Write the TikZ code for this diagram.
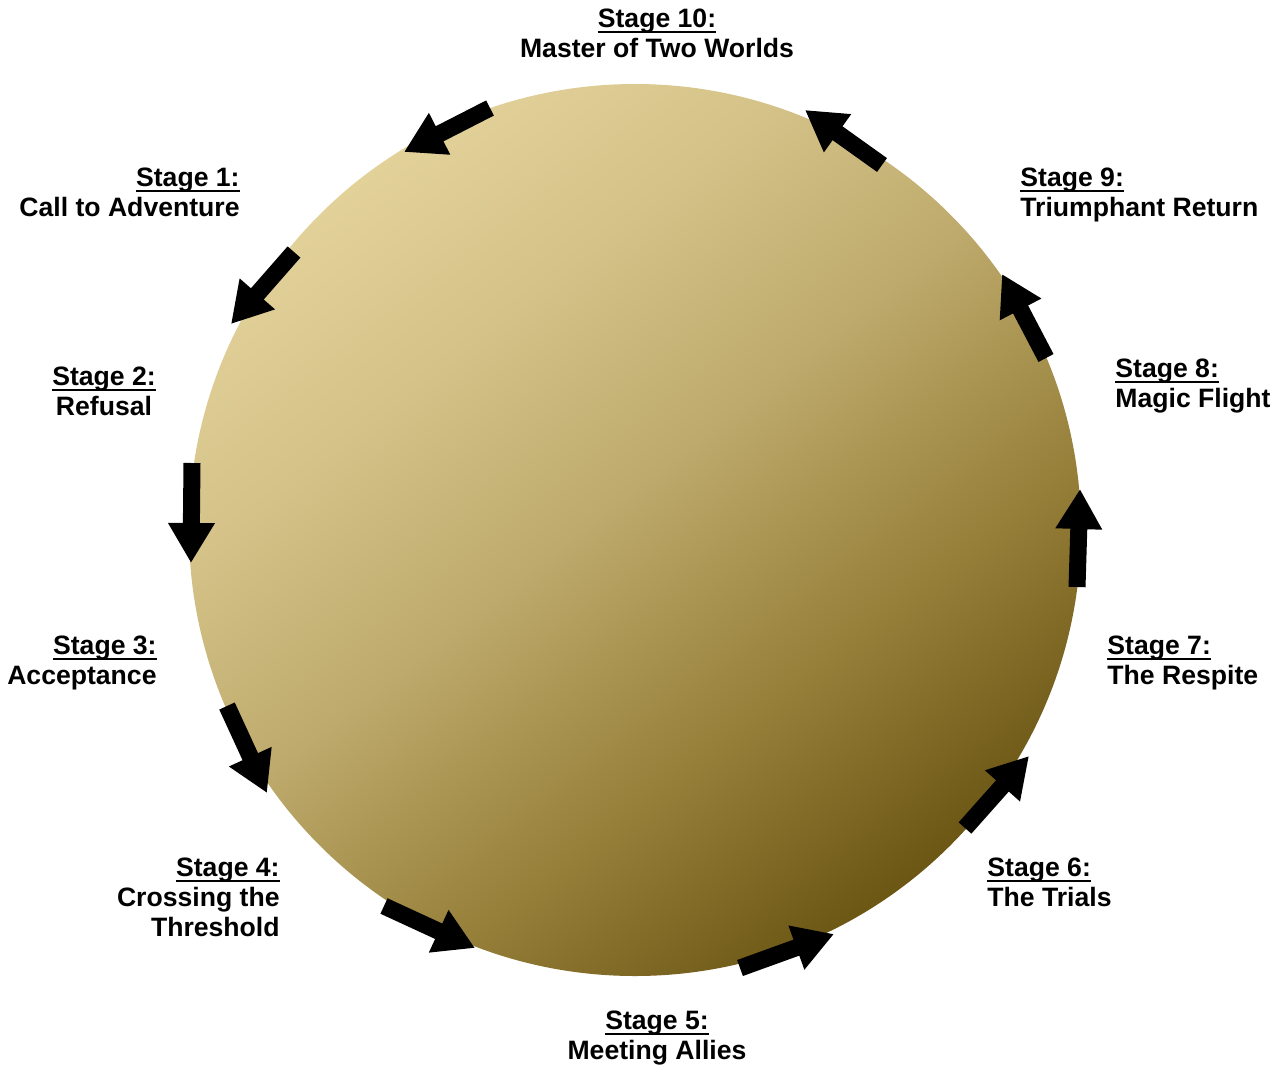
\documentclass[tikz,border=0pt]{standalone}
\usepackage{fontspec}
\setmainfont{Liberation Sans}
\usetikzlibrary{arrows.meta}
\definecolor{discLight}{RGB}{226,209,153}
\definecolor{discLightMid}{RGB}{212,194,136}
\definecolor{discMid}{RGB}{190,170,108}
\definecolor{discMidDark}{RGB}{150,128,58}
\definecolor{discDark}{RGB}{108,86,20}
\pgfdeclareverticalshading{discshade}{100bp}{color(0bp)=(discDark); color(25bp)=(discDark); color(38bp)=(discMidDark); color(52bp)=(discMid); color(64bp)=(discLightMid); color(75bp)=(discLight); color(100bp)=(discLight)}
\tikzset{
  lbl/.style={font=\bfseries\fontsize{13.3}{15}\selectfont, inner sep=0pt},
  lblL/.style={lbl, align=left, anchor=north west},
  lblR/.style={lbl, align=right, anchor=north east},
  lblC/.style={lbl, align=center, anchor=north},
  flow/.style={line width=8.5pt, -{Triangle[length=20pt,width=22pt]}, black},
}
\newcommand{\stg}[1]{\setbox0\hbox{Stage #1:}\rlap{\copy0}\raisebox{-2.6pt}{\rule{\wd0}{1.1pt}}}
\begin{document}
\begin{tikzpicture}[x=0.5pt,y=-0.5pt]
\useasboundingbox (0,0) rectangle (1284,1072);
\fill[white] (0,0) rectangle (1284,1072);
% disc
\shade[shading=discshade, shading angle=38]
  (635,530) circle[radius=223pt];
% labels
\node[lblC] (s10) at (657,9) {\stg{10}\\Master of Two Worlds};
\node[lblR] (s1) at (240,168) {\stg{1}\\Call to Adventure};
\node[lblC] (s2) at (104,367) {\stg{2}\\Refusal};
\node[lblR] (s3) at (157,636) {\stg{3}\\Acceptance};
\node[lblR] (s4) at (280,858) {\stg{4}\\Crossing the\\Threshold};
\node[lblC] (s5) at (657,1011) {\stg{5}\\Meeting Allies};
\node[lblL] (s6) at (987,858) {\stg{6}\\The Trials};
\node[lblL] (s7) at (1107,636) {\stg{7}\\The Respite};
\node[lblL] (s8) at (1115,359) {\stg{8}\\Magic Flight};
\node[lblL] (s9) at (1020,168) {\stg{9}\\Triumphant Return};
% arrow end points
\coordinate (a1t) at (490,108); \coordinate (a1h) at (404,152);
\coordinate (a2t) at (294,252); \coordinate (a2h) at (231,324);
\coordinate (a3t) at (192,463); \coordinate (a3h) at (191,563);
\coordinate (a4t) at (227,706); \coordinate (a4h) at (267,793);
\coordinate (a5t) at (384,906); \coordinate (a5h) at (475,948);
\coordinate (a6t) at (740,968); \coordinate (a6h) at (834,934);
\coordinate (a7t) at (965,828); \coordinate (a7h) at (1029,756);
\coordinate (a8t) at (1077,587); \coordinate (a8h) at (1080,489);
\coordinate (a9t) at (1046,358); \coordinate (a9h) at (1002,274);
\coordinate (a10t) at (882,165); \coordinate (a10h) at (805,110);
\foreach \i in {1,...,10} \draw[flow] (a\i t) -- (a\i h);
\end{tikzpicture}
\end{document}
